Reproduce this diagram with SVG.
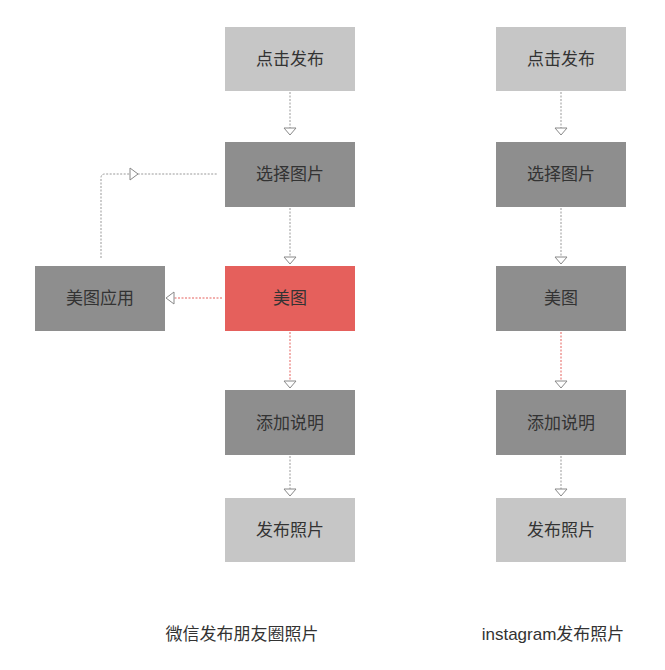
<svg xmlns="http://www.w3.org/2000/svg" width="665" height="670" viewBox="0 0 665 670">
<style>
text{font-family:"Liberation Sans","Noto Sans CJK SC",sans-serif;font-size:17px;fill:#333;text-anchor:middle;dominant-baseline:central}
.l{fill:#c6c6c6}.d{fill:#8e8e8e}.r{fill:#e5605c}
.c{fill:none;stroke:#999;stroke-width:1;stroke-dasharray:2 1.5}
.cr{fill:none;stroke:#e5605c;stroke-width:1;stroke-dasharray:2 1.5}
.a{fill:#fff;stroke:#888;stroke-width:1}
</style>
<rect width="665" height="670" fill="#fff"/>
<g id="connectors">
<path class="c" d="M290 92V128M290 208V257M290 456V489M561 92V128M561 208V257M561 456V489"/>
<path class="cr" d="M290 332V381M561 332V381"/>
<path class="cr" d="M222 298H174"/>
<path class="c" d="M101 258V178Q101 174 105 174H218"/>
<polygon class="a" points="284,128 296,128 290,135"/>
<polygon class="a" points="284,257 296,257 290,264"/>
<polygon class="a" points="284,381 296,381 290,388"/>
<polygon class="a" points="284,489 296,489 290,496"/>
<polygon class="a" points="555,128 567,128 561,135"/>
<polygon class="a" points="555,257 567,257 561,264"/>
<polygon class="a" points="555,381 567,381 561,388"/>
<polygon class="a" points="555,489 567,489 561,496"/>
<polygon class="a" points="174,292 174,304 166,298"/>
<polygon class="a" points="130,168 130,180 138,174"/>
</g>
<g id="w1"><rect class="l" x="225" y="27" width="130" height="64"/><text x="290" y="59">点击发布</text></g>
<g id="w2"><rect class="d" x="225" y="142" width="130" height="65"/><text x="290" y="174">选择图片</text></g>
<g id="w3"><rect class="r" x="225" y="266" width="130" height="65"/><text x="290" y="298">美图</text></g>
<g id="w4"><rect class="d" x="225" y="390" width="130" height="65"/><text x="290" y="423">添加说明</text></g>
<g id="w5"><rect class="l" x="225" y="498" width="130" height="64"/><text x="290" y="530">发布照片</text></g>
<g id="w6"><rect class="d" x="35" y="266" width="130" height="65"/><text x="100" y="298">美图应用</text></g>
<g id="i1"><rect class="l" x="496" y="27" width="130" height="64"/><text x="561" y="59">点击发布</text></g>
<g id="i2"><rect class="d" x="496" y="142" width="130" height="65"/><text x="561" y="174">选择图片</text></g>
<g id="i3"><rect class="d" x="496" y="266" width="130" height="65"/><text x="561" y="298">美图</text></g>
<g id="i4"><rect class="d" x="496" y="390" width="130" height="65"/><text x="561" y="423">添加说明</text></g>
<g id="i5"><rect class="l" x="496" y="498" width="130" height="64"/><text x="561" y="530">发布照片</text></g>
<text x="242" y="634">微信发布朋友圈照片</text>
<text x="553" y="634">instagram发布照片</text>
</svg>
